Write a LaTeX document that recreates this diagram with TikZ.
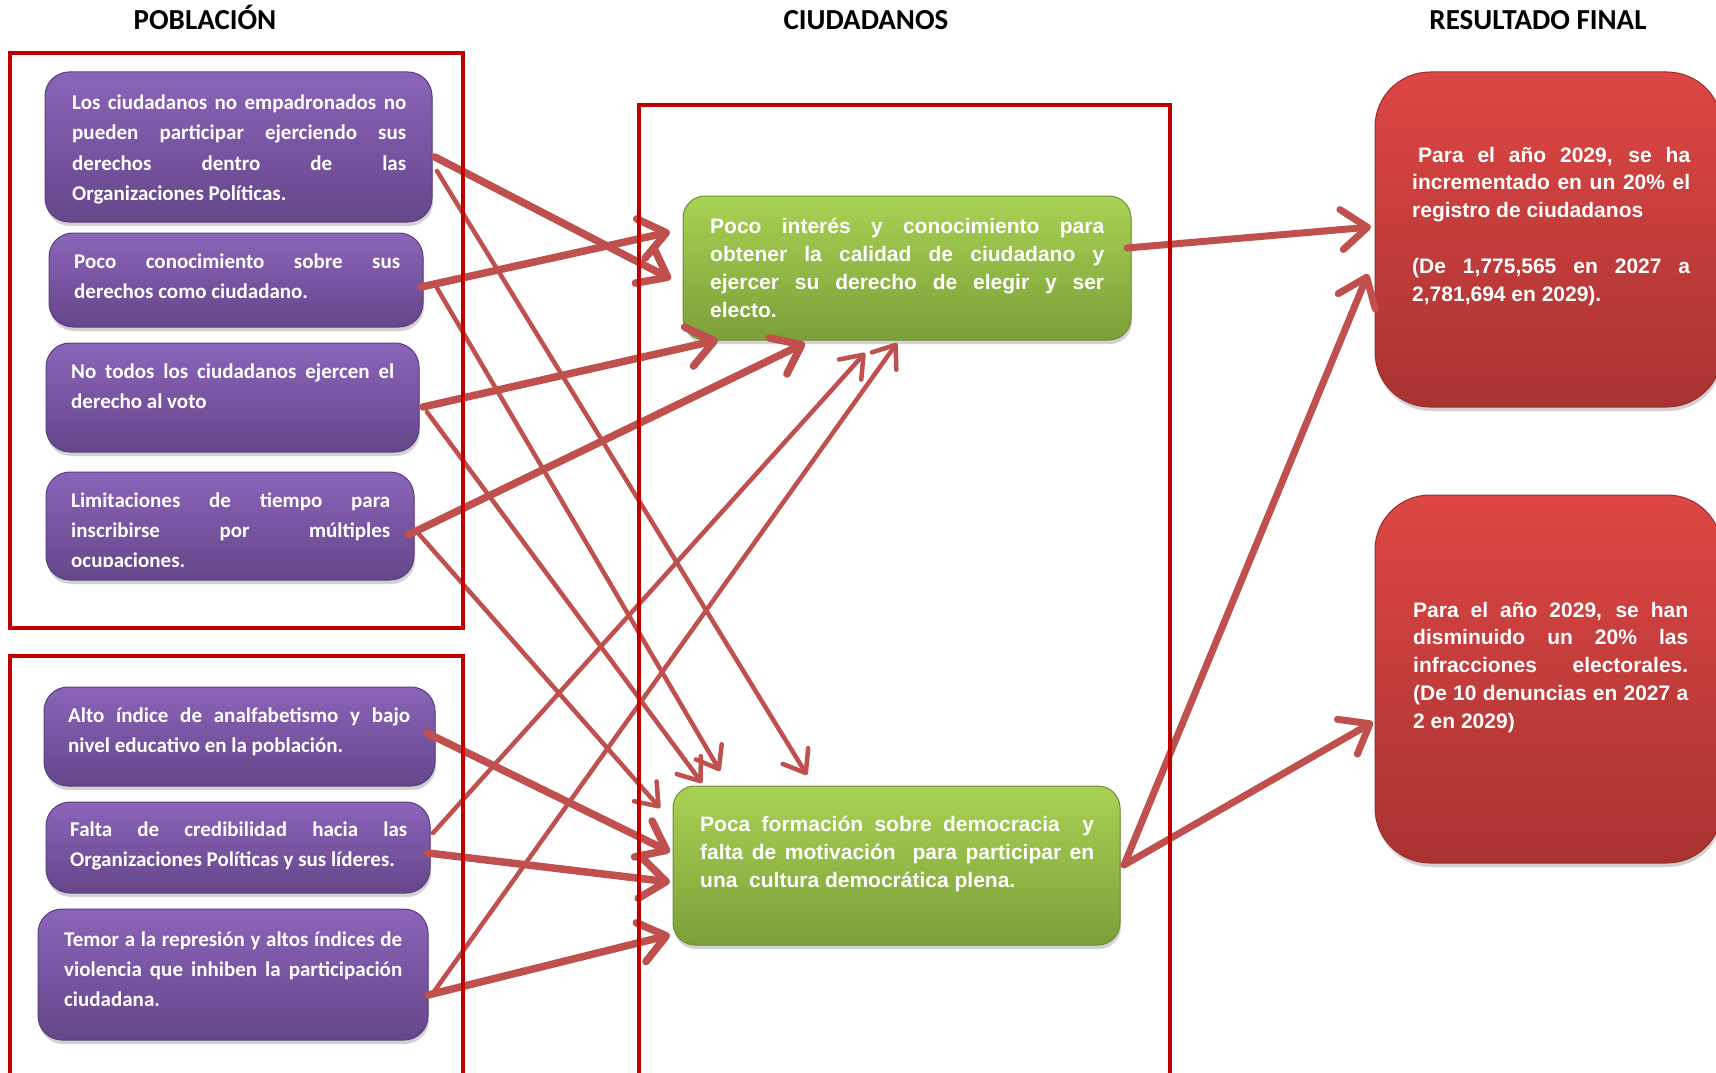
\documentclass[tikz,border=0pt]{standalone}
\usepackage{fontspec}
\newfontfamily\calib{Carlito}
\newfontfamily\arial{Liberation Sans}
\usetikzlibrary{arrows.meta,calc,shadows}
\definecolor{framered}{HTML}{C00000}
\definecolor{arrowred}{HTML}{C0504D}
\definecolor{purtop}{HTML}{8B64B9}
\definecolor{purbot}{HTML}{65468A}
\definecolor{purline}{HTML}{5A3E7D}
\definecolor{grntop}{HTML}{A8D254}
\definecolor{grnbot}{HTML}{7C9F39}
\definecolor{grnline}{HTML}{6E8F33}
\definecolor{redtop}{HTML}{DD4644}
\definecolor{redbot}{HTML}{A83331}
\definecolor{redline}{HTML}{9A2E2C}
\tikzset{
  boxshadow/.style={drop shadow={opacity=0.35,shadow xshift=1pt,shadow yshift=-4pt}},
  pbox/.style={rectangle,rounded corners=24pt,inner sep=0pt,outer sep=0pt,
    top color=purtop,bottom color=purbot,draw=purline,line width=1pt,boxshadow},
  gbox/.style={rectangle,rounded corners=22pt,inner sep=0pt,outer sep=0pt,
    top color=grntop,bottom color=grnbot,draw=grnline,line width=1pt,boxshadow},
  rbox/.style={rectangle,rounded corners=55pt,inner sep=0pt,outer sep=0pt,
    top color=redtop,bottom color=redbot,draw=redline,line width=1pt,boxshadow},
  ptext/.style={anchor=base west,inner sep=0pt,text width=#1,align=justify,
    text=white,font=\calib\bfseries\fontsize{21}{30}\selectfont},
  atext/.style={anchor=base west,inner sep=0pt,text width=#1,align=justify,
    text=white,font=\arial\bfseries\fontsize{21}{28}\selectfont},
  rtext/.style={anchor=base west,inner sep=0pt,text width=#1,align=justify,
    text=white,font=\arial\bfseries\fontsize{21}{27.8}\selectfont},
  coltitle/.style={anchor=base,inner sep=0pt,font=\calib\bfseries\fontsize{29}{30}\selectfont},
  groupframe/.style={draw=framered,line width=4pt},
  thickarrow/.style={draw=arrowred,line width=7.5pt,line cap=round,
    -{Straight Barb[length=26pt,width=40pt,round]}},
  medarrow/.style={draw=arrowred,line width=7pt,line cap=round,
    -{Straight Barb[length=26pt,width=40pt,round]}},
  thinarrow/.style={draw=arrowred,line width=4.5pt,line cap=round,
    -{Straight Barb[length=20pt,width=30pt,round]}},
}
\begin{document}
\begin{tikzpicture}[x=1pt,y=-1pt]
\useasboundingbox (0,0) rectangle (1716,1073);
\begin{scope}
\clip (0,0) rectangle (1716,1073);
\fill[white] (0,0) rectangle (1716,1073);

% titles
\node[coltitle] (tpob) at (205,30) {POBLACIÓN};
\node[coltitle] (tciu) at (866,30) {CIUDADANOS};
\node[coltitle] (tres) at (1538,30) {RESULTADO FINAL};

% purple boxes
\node[pbox,minimum width=387pt,minimum height=150pt] (p1) at (238.5,147) {};
\node[pbox,minimum width=374pt,minimum height=94pt] (p2) at (236,280) {};
\node[pbox,minimum width=373pt,minimum height=109pt] (p3) at (232.5,397.5) {};
\node[pbox,minimum width=368pt,minimum height=108pt] (p4) at (230,526) {};
\node[pbox,minimum width=391pt,minimum height=99pt] (p5) at (239.5,736.5) {};
\node[pbox,minimum width=384pt,minimum height=91pt] (p6) at (238,847.5) {};
\node[pbox,minimum width=390pt,minimum height=131pt] (p7) at (233,974.5) {};

% green boxes
\node[gbox,minimum width=448pt,minimum height=144pt] (g1) at (907,268) {};
\node[gbox,minimum width=447pt,minimum height=159pt] (g2) at (896.5,865.5) {};

% red boxes
\node[rbox,minimum width=347pt,minimum height=335pt] (r1) at (1548.5,239.5) {};
\node[rbox,minimum width=347pt,minimum height=368pt] (r2) at (1548.5,679) {};

% texts in purple boxes
\node[ptext=334pt] (t1) at (72,110) {Los ciudadanos no empadronados no\linebreak pueden participar ejerciendo sus\linebreak derechos dentro de las\linebreak Organizaciones Políticas.};
\node[ptext=326pt] (t2) at (74,268) {Poco conocimiento sobre sus\linebreak derechos como ciudadano.};
\node[ptext=323pt] (t3) at (71,378) {No todos los ciudadanos ejercen el\linebreak derecho al voto};
\begin{scope}
\clip (0,470) rectangle (470,566);
\node[ptext=319pt] (t4) at (71,507) {Limitaciones de tiempo para\linebreak inscribirse por múltiples\linebreak ocupaciones.};
\end{scope}
\node[ptext=342pt] (t5) at (68,722) {Alto índice de analfabetismo y bajo\linebreak nivel educativo en la población.};
\node[ptext=337pt] (t6) at (70,836) {Falta de credibilidad hacia las\linebreak Organizaciones Políticas y sus líderes.};
\node[ptext=338pt] (t7) at (64,946) {Temor a la represión y altos índices de\linebreak violencia que inhiben la participación\linebreak ciudadana.};

% texts in green boxes
\node[atext=394pt] (tg1) at (710,233) {Poco interés y conocimiento para\linebreak obtener la calidad de ciudadano y\linebreak ejercer su derecho de elegir y ser\linebreak electo.};
\node[atext=394pt] (tg2) at (700,831) {Poca formación sobre democracia~ y\linebreak falta de motivación~ para participar en\linebreak una~ cultura democrática plena.};

% texts in red boxes
\node[rtext=278pt] (tr1) at (1412,162) {\hspace*{6pt}Para el año 2029, se ha\linebreak incrementado en un 20\% el\linebreak registro de ciudadanos\par\vspace{27.8pt}(De 1,775,565 en 2027 a\linebreak 2,781,694 en 2029).};
\node[rtext=275pt] (tr2) at (1413,617) {Para el año 2029, se han\linebreak disminuido un 20\% las\linebreak infracciones electorales.\linebreak (De 10 denuncias en 2027 a\linebreak 2 en 2029)};

% thick arrows
\draw[thickarrow] ($(p1.north east)+(3,85)$) -- ($(g1.north west)+(-12,83)$);
\draw[thickarrow] ($(p2.north east)+(-2,54)$) -- ($(g1.north west)+(-13,36)$);
\draw[thickarrow] ($(p3.north east)+(4,64)$) -- ($(g1.south west)+(35,0)$);
\draw[thickarrow] ($(p4.north east)+(-6,63)$) -- ($(g1.south west)+(122,3)$);
\draw[thickarrow] ($(p5.north east)+(-8,46)$) -- ($(g2.north west)+(-3,66)$);
\draw[thickarrow] ($(p6.north east)+(-2,51)$) -- ($(g2.north west)+(-3,96)$);
\draw[thickarrow] ($(p7.north east)+(0,86)$) -- ($(g2.north west)+(-3,149)$);

% thin arrows
\draw[thinarrow] ($(p1.north east)+(5,99)$) -- ($(g2.north west)+(134,-11)$);
\draw[thinarrow] ($(p2.north east)+(14,55)$) -- ($(g2.north west)+(47,-15)$);
\draw[thinarrow] ($(p3.north east)+(8,69)$) -- ($(g2.north west)+(29,-3)$);
\draw[thinarrow] ($(p4.north east)+(4,61)$) -- ($(g2.north west)+(-13,22)$);
\draw[thinarrow] ($(p6.north east)+(3,31)$) -- ($(g1.south west)+(182,13)$);
\draw[thinarrow] ($(p7.north east)+(5,84)$) -- ($(g1.south west)+(214,3)$);

% arrows to results
\draw[medarrow] ($(g1.north east)+(-4,52)$) -- ($(r1.north west)+(-4,155)$);
\draw[medarrow] ($(g2.north east)+(4,79)$) -- ($(r1.north west)+(-7,202)$);
\draw[medarrow] ($(g2.north east)+(4,79)$) -- ($(r2.north west)+(-2,227)$);

% group frames
\draw[groupframe] (10,53) rectangle (463,628);
\draw[groupframe] (10,656) rectangle (463,1100);
\draw[groupframe] (639,105) rectangle (1170,1100);
\end{scope}
\end{tikzpicture}
\end{document}
